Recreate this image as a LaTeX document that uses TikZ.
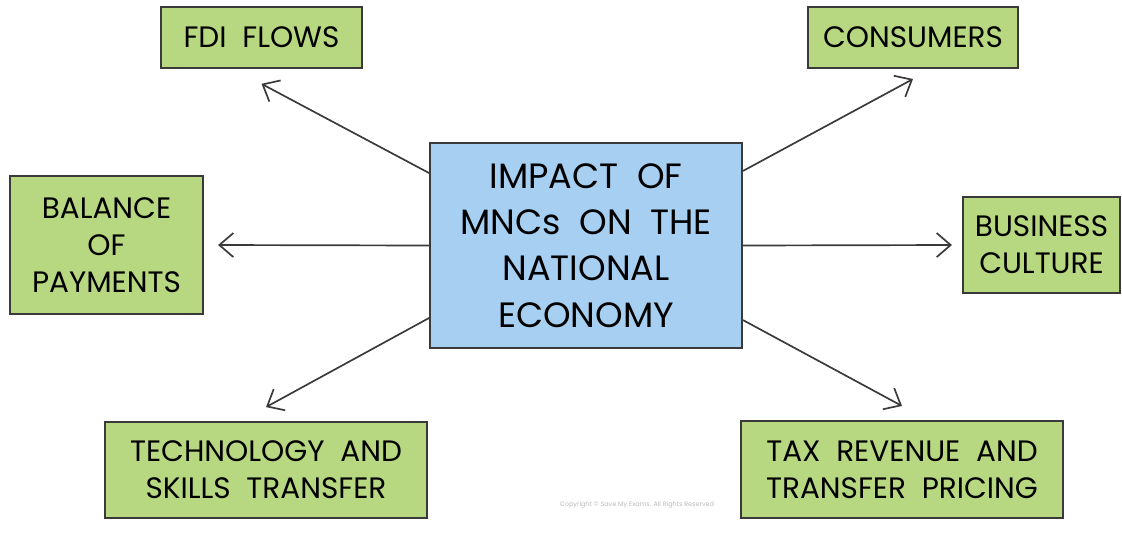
\documentclass[tikz,border=0pt]{standalone}
\usepackage{fontspec}
\setmainfont{Poppins}[WordSpace=2]
\newfontfamily\creditfont{Poppins}
\usepackage{xcolor}
\usetikzlibrary{arrows.meta,calc}

\definecolor{boxgreen}{RGB}{183,216,128}
\definecolor{boxblue}{RGB}{166,207,241}
\definecolor{edgegrey}{RGB}{58,58,58}

\tikzset{
  factor/.style={draw=edgegrey,fill=boxgreen,line width=1.3pt,align=center,inner sep=0pt,
    font=\fontsize{21}{26.5}\selectfont},
  impact/.style={draw=edgegrey,fill=boxblue,line width=1.3pt,align=center,inner sep=0pt,
    font=\fontsize{25}{33}\selectfont},
  link/.style={draw=edgegrey,line width=1.2pt,-{Straight Barb[length=3.5mm,width=6mm]}}
}

\begin{document}
\begin{tikzpicture}[x=0.025cm,y=-0.025cm]
\useasboundingbox (0,0) rectangle (1122,541);
\node[impact,minimum width=7.8cm,minimum height=5.13cm] (mnc) at (586,245.5)%
{IMPACT OF\\MNCs ON THE\\NATIONAL\\ECONOMY};
\node[factor,minimum width=5.03cm,minimum height=1.53cm] (fdi) at (261.5,37.5) {FDI FLOWS};
\node[factor,minimum width=5.25cm,minimum height=1.53cm] (cons) at (913,37.5) {CONSUMERS};
\node[factor,minimum width=4.83cm,minimum height=3.45cm] (bop) at (106.5,245) {BALANCE\\OF\\PAYMENTS};
\node[factor,minimum width=3.93cm,minimum height=2.4cm] (biz) at (1041.5,245) {BUSINESS\\CULTURE};
\node[factor,minimum width=8.05cm,minimum height=2.4cm] (tech) at (266,470) {TECHNOLOGY AND\\SKILLS TRANSFER};
\node[factor,minimum width=8.05cm,minimum height=2.43cm] (tax) at (902,469.5) {TAX REVENUE AND\\TRANSFER PRICING};
\node[text=gray!55,font=\creditfont\fontsize{4.6}{6}\selectfont] (credit) at (637,505) {Copyright \textcopyright{} Save My Exams. All Rights Reserved};
% arrows out of the centre box
\draw[link] ($(mnc.north west)!0.15!(mnc.south west)$) -- ([yshift=-0.37cm]fdi.south);
\draw[link] ($(mnc.north east)!0.14!(mnc.south east)$) -- ([yshift=-0.25cm]cons.south);
\draw[link] (mnc.west) -- ([xshift=0.35cm]bop.east);
\draw[link] (mnc.east) -- ([xshift=-0.25cm]biz.west);
\draw[link] ($(mnc.north west)!0.85!(mnc.south west)$) -- ([yshift=0.35cm]tech.north);
\draw[link] ($(mnc.north east)!0.86!(mnc.south east)$) -- ([yshift=0.35cm]tax.north);
\end{tikzpicture}
\end{document}
